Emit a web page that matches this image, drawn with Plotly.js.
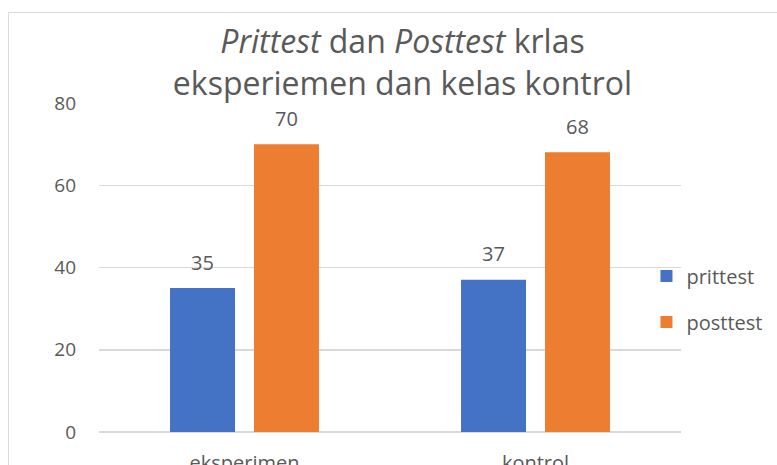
<!DOCTYPE html>
<html>
<head>
<meta charset="utf-8">
<script src="https://cdn.plot.ly/plotly-3.0.1.min.js"></script>
<style>
  html, body { margin: 0; padding: 0; background: #fff; overflow: hidden; }
  #chart { width: 777px; height: 465px; position: absolute; left: 0; top: 0; }
  #frame { position: absolute; left: 8px; top: 12px; width: 800px; height: 500px;
           border-left: 1.5px solid #d9d9d9; border-top: 1.5px solid #d9d9d9; pointer-events: none; }
</style>
</head>
<body>
<div id="chart"></div>
<div id="frame"></div>
<script>
const categories = ["eksperimen", "kontrol"];
const prittestValues = [35, 37];
const posttestValues = [70, 68];
const seriesNames = ["prittest", "posttest"];
const seriesColors = ["#4472C4", "#ED7D31"];
const yTicks = [0, 20, 40, 60, 80];

const font = "Open Sans, Noto Sans, sans-serif";
const textColor = "#595959";
const seriesValues = [prittestValues, posttestValues];

const traces = [];
seriesValues.forEach((vals, i) => {
  traces.push({
    type: "bar", name: seriesNames[i], x: categories, y: vals,
    marker: { color: seriesColors[i] },
    legendgroup: "g" + i, hoverinfo: "skip"
  });
});
// data labels: grouped scatter text traces aligned with the bars
seriesValues.forEach((vals, i) => {
  traces.push({
    type: "scatter", mode: "markers+text", x: categories, y: vals,
    text: vals.map(String), textposition: "top center",
    textfont: { family: font, size: 20, color: textColor },
    marker: { size: 20, opacity: 0 },
    showlegend: false, cliponaxis: false, hoverinfo: "skip"
  });
});

const layout = {
  width: 777, height: 465,
  margin: { l: 99, r: 96, t: 103, b: 33, pad: 0, autoexpand: false },
  paper_bgcolor: "#fff", plot_bgcolor: "#fff",
  font: { family: font, color: textColor },
  title: {
    text: "<i>Prittest</i> dan <i>Posttest</i> krlas<br>eksperiemen dan kelas kontrol",
    font: { family: font, size: 32, color: textColor },
    x: 0.518, xanchor: "center", xref: "container",
    y: 0.885, yanchor: "top", yref: "container"
  },
  barmode: "group", bargap: 0.423, bargroupgap: 0.226,
  scattermode: "group", scattergap: 0.423,
  xaxis: {
    showgrid: false, showline: false, zeroline: false, ticks: "",
    tickfont: { family: font, size: 20, color: textColor },
    ticklabelstandoff: 17
  },
  yaxis: {
    range: [0, 80], tickvals: yTicks, ticktext: yTicks.map(String),
    showgrid: true, gridcolor: "#d9d9d9", gridwidth: 1.5,
    zeroline: true, zerolinecolor: "#d9d9d9", zerolinewidth: 1.5,
    showline: false, ticks: "",
    tickfont: { family: font, size: 19, color: textColor },
    ticklabelstandoff: 22
  },
  showlegend: true,
  legend: {
    xref: "container", yref: "container",
    x: 0.832, xanchor: "left", y: 0.357, yanchor: "middle",
    font: { family: font, size: 20, color: textColor },
    traceorder: "grouped", tracegroupgap: 17,
    itemwidth: 30, bgcolor: "rgba(0,0,0,0)"
  }
};

Plotly.newPlot("chart", traces, layout, { displayModeBar: false, staticPlot: true });
</script>
</body>
</html>
